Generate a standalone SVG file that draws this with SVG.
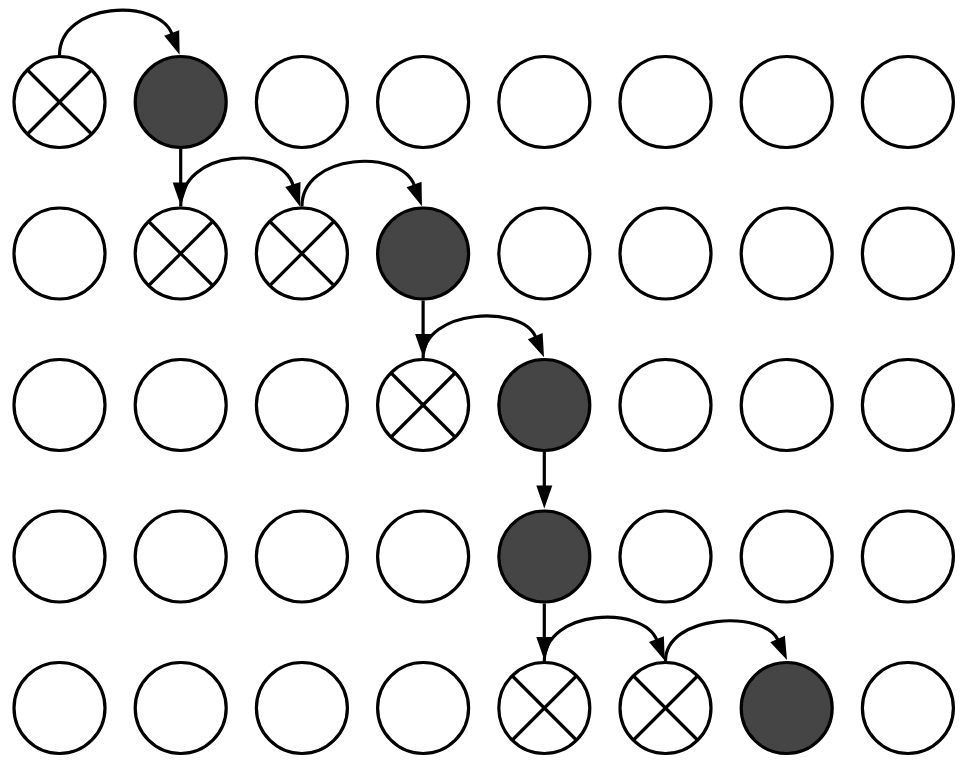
<svg xmlns="http://www.w3.org/2000/svg" width="971" height="767" viewBox="0 0 971 767">
<style>
.n{fill:#ffffff;stroke:#000;stroke-width:3.2}
.f{fill:#454545;stroke:#000;stroke-width:3.2}
.x{stroke:#000;stroke-width:3.2;fill:none}
.c{fill:none;stroke:#000;stroke-width:3.2}
</style>
<defs>
<marker id="ah" markerUnits="userSpaceOnUse" viewBox="0 -8 23 16" markerWidth="23" markerHeight="16" refX="1" refY="0" orient="auto" overflow="visible">
<path d="M0,-8 L23,0 L0,8 z" fill="#000"/>
</marker>
<g id="cross"><line class="x" x1="-32" y1="-32" x2="32" y2="32"/><line class="x" x1="-32" y1="32" x2="32" y2="-32"/></g>
</defs>
<rect width="971" height="767" fill="#fff"/>
<g id="nodes">
<g id="n0-0"><circle class="n" cx="59.5" cy="102" r="45.5"/><use href="#cross" x="59.5" y="102"/></g>
<g id="n0-1"><circle class="f" cx="180.7" cy="102" r="45.5"/></g>
<g id="n0-2"><circle class="n" cx="301.9" cy="102" r="45.5"/></g>
<g id="n0-3"><circle class="n" cx="423.1" cy="102" r="45.5"/></g>
<g id="n0-4"><circle class="n" cx="544.3" cy="102" r="45.5"/></g>
<g id="n0-5"><circle class="n" cx="665.5" cy="102" r="45.5"/></g>
<g id="n0-6"><circle class="n" cx="786.7" cy="102" r="45.5"/></g>
<g id="n0-7"><circle class="n" cx="907.9" cy="102" r="45.5"/></g>

<g id="n1-0"><circle class="n" cx="59.5" cy="253.5" r="45.5"/></g>
<g id="n1-1"><circle class="n" cx="180.7" cy="253.5" r="45.5"/><use href="#cross" x="180.7" y="253.5"/></g>
<g id="n1-2"><circle class="n" cx="301.9" cy="253.5" r="45.5"/><use href="#cross" x="301.9" y="253.5"/></g>
<g id="n1-3"><circle class="f" cx="423.1" cy="253.5" r="45.5"/></g>
<g id="n1-4"><circle class="n" cx="544.3" cy="253.5" r="45.5"/></g>
<g id="n1-5"><circle class="n" cx="665.5" cy="253.5" r="45.5"/></g>
<g id="n1-6"><circle class="n" cx="786.7" cy="253.5" r="45.5"/></g>
<g id="n1-7"><circle class="n" cx="907.9" cy="253.5" r="45.5"/></g>

<g id="n2-0"><circle class="n" cx="59.5" cy="405" r="45.5"/></g>
<g id="n2-1"><circle class="n" cx="180.7" cy="405" r="45.5"/></g>
<g id="n2-2"><circle class="n" cx="301.9" cy="405" r="45.5"/></g>
<g id="n2-3"><circle class="n" cx="423.1" cy="405" r="45.5"/><use href="#cross" x="423.1" y="405"/></g>
<g id="n2-4"><circle class="f" cx="544.3" cy="405" r="45.5"/></g>
<g id="n2-5"><circle class="n" cx="665.5" cy="405" r="45.5"/></g>
<g id="n2-6"><circle class="n" cx="786.7" cy="405" r="45.5"/></g>
<g id="n2-7"><circle class="n" cx="907.9" cy="405" r="45.5"/></g>

<g id="n3-0"><circle class="n" cx="59.5" cy="556.5" r="45.5"/></g>
<g id="n3-1"><circle class="n" cx="180.7" cy="556.5" r="45.5"/></g>
<g id="n3-2"><circle class="n" cx="301.9" cy="556.5" r="45.5"/></g>
<g id="n3-3"><circle class="n" cx="423.1" cy="556.5" r="45.5"/></g>
<g id="n3-4"><circle class="f" cx="544.3" cy="556.5" r="45.5"/></g>
<g id="n3-5"><circle class="n" cx="665.5" cy="556.5" r="45.5"/></g>
<g id="n3-6"><circle class="n" cx="786.7" cy="556.5" r="45.5"/></g>
<g id="n3-7"><circle class="n" cx="907.9" cy="556.5" r="45.5"/></g>

<g id="n4-0"><circle class="n" cx="59.5" cy="708" r="45.5"/></g>
<g id="n4-1"><circle class="n" cx="180.7" cy="708" r="45.5"/></g>
<g id="n4-2"><circle class="n" cx="301.9" cy="708" r="45.5"/></g>
<g id="n4-3"><circle class="n" cx="423.1" cy="708" r="45.5"/></g>
<g id="n4-4"><circle class="n" cx="544.3" cy="708" r="45.5"/><use href="#cross" x="544.3" y="708"/></g>
<g id="n4-5"><circle class="n" cx="665.5" cy="708" r="45.5"/><use href="#cross" x="665.5" y="708"/></g>
<g id="n4-6"><circle class="f" cx="786.7" cy="708" r="45.5"/></g>
<g id="n4-7"><circle class="n" cx="907.9" cy="708" r="45.5"/></g>
</g>
<g id="connectors">
<path class="c" marker-end="url(#ah)" d="M59.5,55 C59.5,2 158.5,-2.5 172,34"/>
<path class="c" marker-end="url(#ah)" d="M180.7,149 V183.5"/>
<path class="c" marker-end="url(#ah)" d="M180.7,206.5 C180.7,148.7 279.7,143.8 293.2,185.5"/>
<path class="c" marker-end="url(#ah)" d="M301.9,206.5 C301.9,152.9 400.9,148.4 414.4,185.5"/>
<path class="c" marker-end="url(#ah)" d="M423.1,300.5 V335"/>
<path class="c" marker-end="url(#ah)" d="M423.1,358 C423.1,308.6 522.1,304.4 535.6,337"/>
<path class="c" marker-end="url(#ah)" d="M544.3,452 V486.5"/>
<path class="c" marker-end="url(#ah)" d="M544.3,603.5 V638"/>
<path class="c" marker-end="url(#ah)" d="M544.3,661 C544.3,609.2 643.3,604.8 656.8,640"/>
<path class="c" marker-end="url(#ah)" d="M665.5,661 C665.5,613.9 764.5,609.9 778,640"/>
</g>
</svg>
